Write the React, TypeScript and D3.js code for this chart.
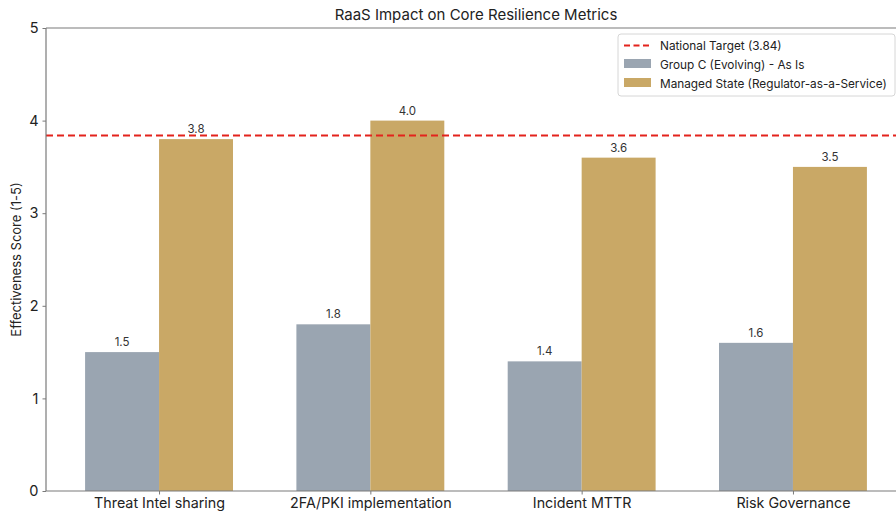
import { useEffect, useRef } from 'react';
import * as d3 from 'd3';

const categories = ['Threat Intel sharing', '2FA/PKI implementation', 'Incident MTTR', 'Risk Governance'];
const asIsValues = [1.5, 1.8, 1.4, 1.6];
const managedValues = [3.8, 4.0, 3.6, 3.5];
const nationalTarget = 3.84;
const yTicks = [0, 1, 2, 3, 4, 5];
const seriesNames = ['Group C (Evolving) - As Is', 'Managed State (Regulator-as-a-Service)'];

const FONT = 'Inter, Roboto, "DejaVu Sans", sans-serif';

export default function App() {
	const svgRef = useRef<SVGSVGElement>(null);

	useEffect(() => {
		const svg = d3.select(svgRef.current);
		svg.selectAll('*').remove();

		const width = 896;
		const height = 518;
		const margin = { top: 28, right: -10, bottom: 27, left: 46 };
		const barW = 0.35;

		// matplotlib-like linear x axis with 5% margins
		const x = d3.scaleLinear()
			.domain([-0.535, 3.535])
			.range([margin.left, width - margin.right]);
		const y = d3.scaleLinear()
			.domain([0, 5])
			.range([height - margin.bottom, margin.top]);

		const gray = '#9aa5b1';
		const gold = '#c9a866';
		const axisColor = '#7a7a7a';

		const g = svg.append('g');

		// bars
		g.selectAll('rect.asis')
			.data(asIsValues)
			.join('rect')
			.attr('x', (_, i) => x(i - barW))
			.attr('y', d => y(d))
			.attr('width', x(barW) - x(0))
			.attr('height', d => y(0) - y(d))
			.attr('fill', gray);

		g.selectAll('rect.managed')
			.data(managedValues)
			.join('rect')
			.attr('x', (_, i) => x(i))
			.attr('y', d => y(d))
			.attr('width', x(barW) - x(0))
			.attr('height', d => y(0) - y(d))
			.attr('fill', gold);

		// value labels
		const labels = [
			...asIsValues.map((v, i) => ({ v, cx: i - barW / 2 })),
			...managedValues.map((v, i) => ({ v, cx: i + barW / 2 })),
		];
		g.selectAll('text.val')
			.data(labels)
			.join('text')
			.attr('x', d => x(d.cx))
			.attr('y', d => y(d.v) - 6)
			.attr('text-anchor', 'middle')
			.attr('font-family', FONT)
			.attr('font-size', 11.5)
			.attr('fill', '#333')
			.text(d => d.v.toFixed(1));

		// target line
		g.append('line')
			.attr('x1', x.range()[0])
			.attr('x2', x.range()[1])
			.attr('y1', y(nationalTarget))
			.attr('y2', y(nationalTarget))
			.attr('stroke', '#e3231c')
			.attr('stroke-width', 2)
			.attr('stroke-dasharray', '7,4');

		// spines
		g.append('line')
			.attr('x1', margin.left).attr('x2', margin.left)
			.attr('y1', y(0)).attr('y2', y(5))
			.attr('stroke', axisColor).attr('stroke-width', 1.2);
		g.append('line')
			.attr('x1', margin.left).attr('x2', width)
			.attr('y1', y(5)).attr('y2', y(5))
			.attr('stroke', axisColor).attr('stroke-width', 1.2);

		// y axis
		const yAxis = g.append('g')
			.attr('transform', `translate(${margin.left},0)`)
			.call(d3.axisLeft(y).tickValues(yTicks).tickSize(3.5).tickPadding(4).tickFormat(d3.format('d')));
		yAxis.select('.domain').remove();
		yAxis.selectAll('line').attr('stroke', axisColor);
		yAxis.selectAll('text').attr('font-family', FONT).attr('font-size', 14.5).attr('fill', '#222');

		// x axis
		const xAxis = g.append('g')
			.attr('transform', `translate(0,${y(0)})`)
			.call(d3.axisBottom(x).tickValues(d3.range(categories.length)).tickSize(3.5).tickPadding(3)
				.tickFormat(d => categories[d as number]));
		xAxis.select('.domain').attr('d', `M${margin.left},0H${width}`).attr('stroke', axisColor).attr('stroke-width', 1.2);
		xAxis.selectAll('line').attr('stroke', axisColor);
		xAxis.selectAll('text').attr('font-family', FONT).attr('font-size', 14.3).attr('fill', '#222');

		// y label
		svg.append('text')
			.attr('transform', `translate(21,${(y(0) + y(5)) / 2}) rotate(-90)`)
			.attr('text-anchor', 'middle')
			.attr('font-family', FONT)
			.attr('font-size', 13)
			.attr('fill', '#222')
			.text('Effectiveness Score (1-5)');

		// title
		svg.append('text')
			.attr('x', (x.range()[0] + x.range()[1]) / 2)
			.attr('y', 20)
			.attr('text-anchor', 'middle')
			.attr('font-family', FONT)
			.attr('font-size', 15)
			.attr('fill', '#222')
			.text('RaaS Impact on Core Resilience Metrics');

		// legend
		const lg = svg.append('g').attr('transform', 'translate(618,34)');
		lg.append('rect')
			.attr('width', 277).attr('height', 62).attr('rx', 3)
			.attr('fill', 'white').attr('fill-opacity', 0.85)
			.attr('stroke', '#d6d6d6');
		lg.append('line')
			.attr('x1', 6).attr('x2', 33).attr('y1', 11.5).attr('y2', 11.5)
			.attr('stroke', '#e3231c').attr('stroke-width', 2).attr('stroke-dasharray', '6,3.5');
		lg.selectAll('rect.sw')
			.data([gray, gold])
			.join('rect')
			.attr('x', 6).attr('y', (_, i) => 25 + i * 19)
			.attr('width', 27).attr('height', 9)
			.attr('fill', d => d);
		lg.selectAll('text')
			.data(['National Target (3.84)', ...seriesNames])
			.join('text')
			.attr('x', 42).attr('y', (_, i) => 16 + i * 19)
			.attr('font-family', FONT)
			.attr('font-size', 11.8)
			.attr('fill', '#222')
			.text(d => d);
	}, []);

	return <svg ref={svgRef} width={896} height={518}
		style={{ position: 'absolute', left: 0, top: 0, background: 'white' }} />;
}
